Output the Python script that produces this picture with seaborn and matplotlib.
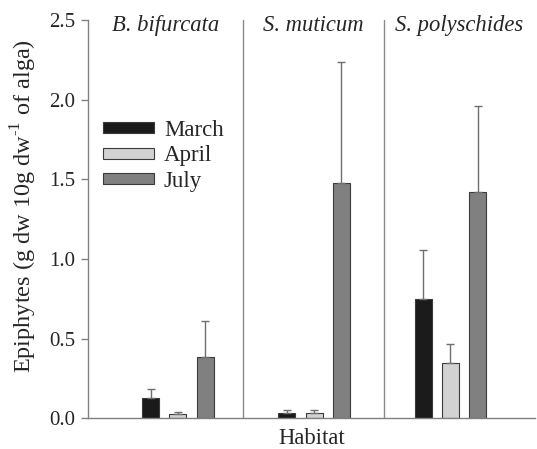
import matplotlib
matplotlib.use("Agg")
import matplotlib.pyplot as plt
import seaborn as sns
import pandas as pd

habitats = ["B. bifurcata", "S. muticum", "S. polyschides"]
months = ["March", "April", "July"]
march = [0.13, 0.035, 0.75]
april = [0.025, 0.035, 0.345]
july = [0.385, 1.48, 1.42]
march_err = [0.055, 0.015, 0.305]
april_err = [0.015, 0.015, 0.12]
july_err = [0.225, 0.755, 0.54]
colors = ["#1a1a1a", "#d2d2d2", "#808080"]

rows = []
for m, vals, errs in zip(months, [march, april, july], [march_err, april_err, july_err]):
    for h, v, e in zip(habitats, vals, errs):
        rows.append({"Habitat": h, "Month": m, "Value": v, "Err": e})
df = pd.DataFrame(rows)

sns.set_style("white")
plt.rcParams["font.family"] = ["Liberation Serif", "DejaVu Serif"]
plt.rcParams["mathtext.fontset"] = "custom"
plt.rcParams["mathtext.rm"] = "Liberation Serif"

fig = plt.figure(figsize=(5.37, 4.49), dpi=100)
ax = fig.add_axes([0.164, 0.0684, 0.832, 0.8866])

sns.barplot(data=df, x="Habitat", y="Value", hue="Month", order=habitats,
            hue_order=months, palette=colors, width=0.6, gap=0.375,
            edgecolor="#3a3a3a", linewidth=0.8, errorbar=None, ax=ax)

# error bars (upper only) using drawn bar positions
for cont, m in zip(ax.containers, months):
    sub = df[df["Month"] == m].set_index("Habitat").loc[habitats]
    for patch, err in zip(cont.patches, sub["Err"]):
        xc = patch.get_x() + patch.get_width() / 2
        top = patch.get_height()
        ax.errorbar([xc], [top], yerr=[[0], [err]], fmt="none",
                    ecolor="#6e6e6e", elinewidth=1.0, capsize=3, capthick=1.0)

ax.set_xlim(-0.66, 2.62)
ax.set_ylim(0, 2.5)
ax.set_yticks([0, 0.5, 1.0, 1.5, 2.0, 2.5])
ax.set_yticklabels(["0.0", "0.5", "1.0", "1.5", "2.0", "2.5"])
ax.set_xticks([])
ax.tick_params(axis="y", direction="out", length=5, width=1, color="#808080",
               labelsize=15, left=True, pad=4)
for s in ["top", "right"]:
    ax.spines[s].set_visible(False)
for s in ["left", "bottom"]:
    ax.spines[s].set_color("#808080")
    ax.spines[s].set_linewidth(1.0)

for xd in [0.476, 1.509]:
    ax.axvline(xd, color="#8a8a8a", lw=1.0, zorder=0)

title_x = [-0.09, 0.99, 2.065]
for h, tx in zip(habitats, title_x):
    ax.text(tx, 2.465, h, ha="center", va="center", style="italic", fontsize=16.3)

ax.set_xlabel("Habitat", fontsize=16.3, labelpad=7)
ax.set_ylabel("Epiphytes (g dw 10g dw$^{\\text{-1}}$ of alga)", fontsize=17.5)
ax.yaxis.set_label_coords(-0.11, 0.533)

leg = ax.legend(title=None, loc="upper left", bbox_to_anchor=(0.034, 0.75),
                frameon=False, fontsize=16.5, handlelength=2.2, handleheight=0.35,
                labelspacing=0.2, handletextpad=0.45, borderaxespad=0, borderpad=0)

fig.savefig("out.png", dpi=100)
